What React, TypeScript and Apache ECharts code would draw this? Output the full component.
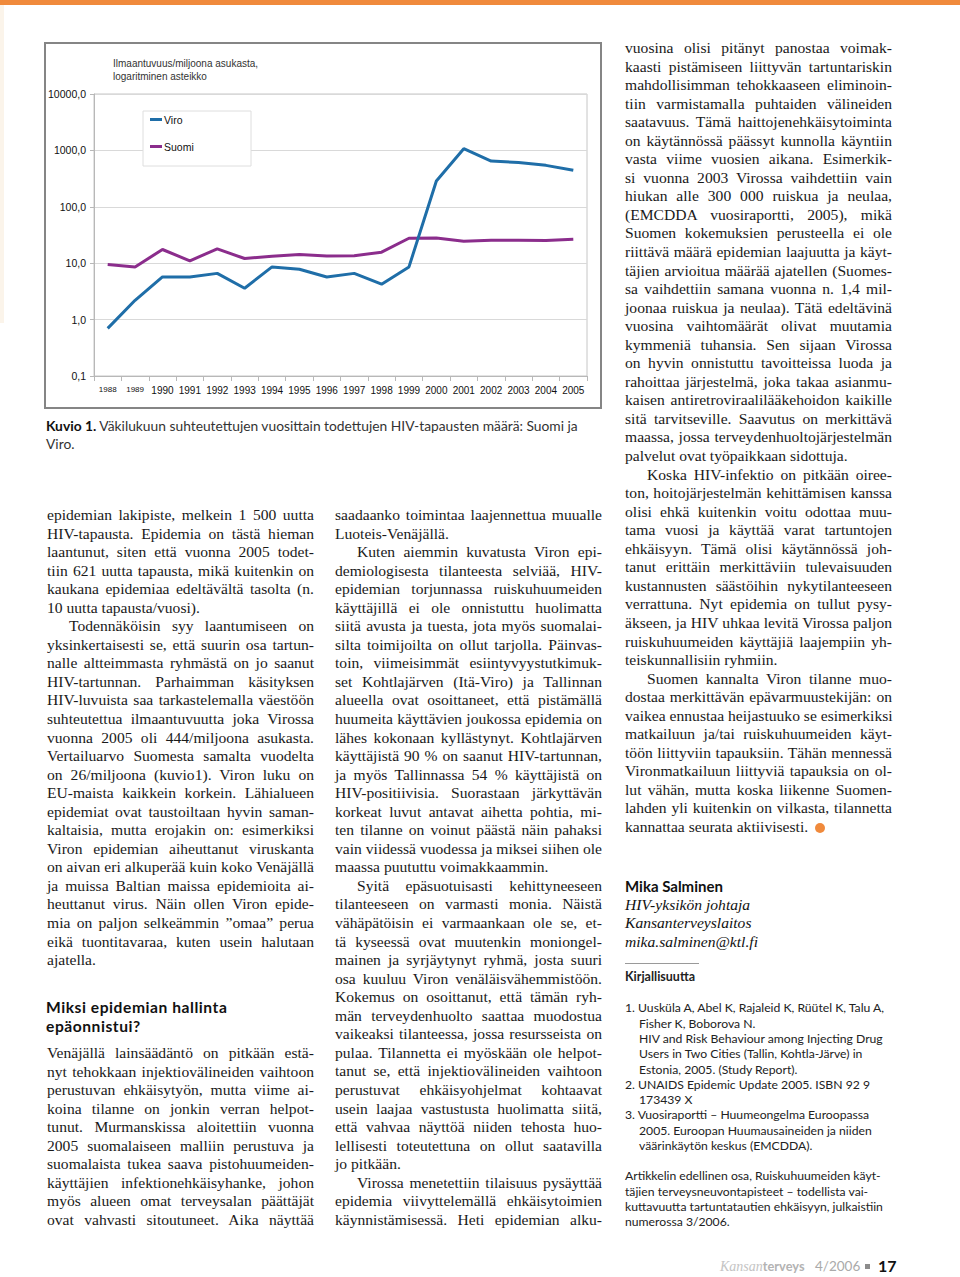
import React, { useEffect, useRef } from "react";
import * as echarts from "echarts";

// ---------- chart data ----------
const years = ["1988", "1989", "1990", "1991", "1992", "1993", "1994", "1995", "1996", "1997", "1998", "1999", "2000", "2001", "2002", "2003", "2004", "2005"];
const viro = [0.7, 2.2, 5.7, 5.7, 6.6, 3.6, 8.6, 7.8, 5.7, 6.6, 4.25, 8.6, 286, 1072, 647, 613, 543, 444];
const suomi = [9.5, 8.6, 17.5, 11, 18, 12.1, 13.3, 14.3, 13.4, 13.6, 15.7, 27.7, 28, 24.5, 25.5, 25.5, 25.2, 26.6];
const seriesNames = ["Viro", "Suomi"];
const seriesColors = ["#1f6ea8", "#8b2d8c"];
const smallYearLabels = ["1988", "1989"];
const axisTitleLines = ["Ilmaantuvuus/miljoona asukasta,", "logaritminen asteikko"];

// ---------- page text ----------
type Para = { lines: string[]; indent?: boolean; cont?: boolean; bullet?: boolean };

const leftParas: Para[] = [
  {
    lines: [
      "epidemian lakipiste, melkein 1 500 uutta",
      "HIV-tapausta. Epidemia on tästä hieman",
      "laantunut, siten että vuonna 2005 todet-",
      "tiin 621 uutta tapausta, mikä kuitenkin on",
      "kaukana epidemiaa edeltävältä tasolta (n.",
      "10 uutta tapausta/vuosi).",
    ],
  },
  {
    indent: true,
    lines: [
      "Todennäköisin syy laantumiseen on",
      "yksinkertaisesti se, että suurin osa tartun-",
      "nalle altteimmasta ryhmästä on jo saanut",
      "HIV-tartunnan. Parhaimman käsityksen",
      "HIV-luvuista saa tarkastelemalla väestöön",
      "suhteutettua ilmaantuvuutta joka Virossa",
      "vuonna 2005 oli 444/miljoona asukasta.",
      "Vertailuarvo Suomesta samalta vuodelta",
      "on 26/miljoona (kuvio1). Viron luku on",
      "EU-maista kaikkein korkein. Lähialueen",
      "epidemiat ovat taustoiltaan hyvin saman-",
      "kaltaisia, mutta erojakin on: esimerkiksi",
      "Viron epidemian aiheuttanut viruskanta",
      "on aivan eri alkuperää kuin koko Venäjällä",
      "ja muissa Baltian maissa epidemioita ai-",
      "heuttanut virus. Näin ollen Viron epide-",
      "mia on paljon selkeämmin ”omaa” perua",
      "eikä tuontitavaraa, kuten usein halutaan",
      "ajatella.",
    ],
  },
];

const headingLines = ["Miksi epidemian hallinta", "epäonnistui?"];

const leftParas2: Para[] = [
  {
    cont: true,
    lines: [
      "Venäjällä lainsäädäntö on pitkään estä-",
      "nyt tehokkaan injektiovälineiden vaihtoon",
      "perustuvan ehkäisytyön, mutta viime ai-",
      "koina tilanne on jonkin verran helpot-",
      "tunut. Murmanskissa aloitettiin vuonna",
      "2005 suomalaiseen malliin perustuva ja",
      "suomalaista tukea saava pistohuumeiden-",
      "käyttäjien infektionehkäisyhanke, johon",
      "myös alueen omat terveysalan päättäjät",
      "ovat vahvasti sitoutuneet. Aika näyttää",
    ],
  },
];

const midParas: Para[] = [
  { lines: ["saadaanko toimintaa laajennettua muualle", "Luoteis-Venäjällä."] },
  {
    indent: true,
    lines: [
      "Kuten aiemmin kuvatusta Viron epi-",
      "demiologisesta tilanteesta selviää, HIV-",
      "epidemian torjunnassa ruiskuhuumeiden",
      "käyttäjillä ei ole onnistuttu huolimatta",
      "siitä avusta ja tuesta, jota myös suomalai-",
      "silta toimijoilta on ollut tarjolla. Päinvas-",
      "toin, viimeisimmät esiintyvyystutkimuk-",
      "set Kohtlajärven (Itä-Viro) ja Tallinnan",
      "alueella ovat osoittaneet, että pistämällä",
      "huumeita käyttävien joukossa epidemia on",
      "lähes kokonaan kyllästynyt. Kohtlajärven",
      "käyttäjistä 90 % on saanut HIV-tartunnan,",
      "ja myös Tallinnassa 54 % käyttäjistä on",
      "HIV-positiivisia. Suorastaan järkyttävän",
      "korkeat luvut antavat aihetta pohtia, mi-",
      "ten tilanne on voinut päästä näin pahaksi",
      "vain viidessä vuodessa ja miksei siihen ole",
      "maassa puututtu voimakkaammin.",
    ],
  },
  {
    indent: true,
    lines: [
      "Syitä epäsuotuisasti kehittyneeseen",
      "tilanteeseen on varmasti monia. Näistä",
      "vähäpätöisin ei varmaankaan ole se, et-",
      "tä kyseessä ovat muutenkin moniongel-",
      "mainen ja syrjäytynyt ryhmä, josta suuri",
      "osa kuuluu Viron venäläisvähemmistöön.",
      "Kokemus on osoittanut, että tämän ryh-",
      "män terveydenhuolto saattaa muodostua",
      "vaikeaksi tilanteessa, jossa resursseista on",
      "pulaa. Tilannetta ei myöskään ole helpot-",
      "tanut se, että injektiovälineiden vaihtoon",
      "perustuvat ehkäisyohjelmat kohtaavat",
      "usein laajaa vastustusta huolimatta siitä,",
      "että vahvaa näyttöä niiden tehosta huo-",
      "lellisesti toteutettuna on ollut saatavilla",
      "jo pitkään.",
    ],
  },
  {
    indent: true,
    cont: true,
    lines: [
      "Virossa menetettiin tilaisuus pysäyttää",
      "epidemia viivyttelemällä ehkäisytoimien",
      "käynnistämisessä. Heti epidemian alku-",
    ],
  },
];

const rightParas: Para[] = [
  {
    lines: [
      "vuosina olisi pitänyt panostaa voimak-",
      "kaasti pistämiseen liittyvän tartuntariskin",
      "mahdollisimman tehokkaaseen eliminoin-",
      "tiin varmistamalla puhtaiden välineiden",
      "saatavuus. Tämä haittojenehkäisytoiminta",
      "on käytännössä päässyt kunnolla käyntiin",
      "vasta viime vuosien aikana. Esimerkik-",
      "si vuonna 2003 Virossa vaihdettiin vain",
      "hiukan alle 300 000 ruiskua ja neulaa,",
      "(EMCDDA vuosiraportti, 2005), mikä",
      "Suomen kokemuksien perusteella ei ole",
      "riittävä määrä epidemian laajuutta ja käyt-",
      "täjien arvioitua määrää ajatellen (Suomes-",
      "sa vaihdettiin samana vuonna n. 1,4 mil-",
      "joonaa ruiskua ja neulaa). Tätä edeltävinä",
      "vuosina vaihtomäärät olivat muutamia",
      "kymmeniä tuhansia. Sen sijaan Virossa",
      "on hyvin onnistuttu tavoitteissa luoda ja",
      "rahoittaa järjestelmä, joka takaa asianmu-",
      "kaisen antiretroviraalilääkehoidon kaikille",
      "sitä tarvitseville. Saavutus on merkittävä",
      "maassa, jossa terveydenhuoltojärjestelmän",
      "palvelut ovat työpaikkaan sidottuja.",
    ],
  },
  {
    indent: true,
    lines: [
      "Koska HIV-infektio on pitkään oiree-",
      "ton, hoitojärjestelmän kehittämisen kanssa",
      "olisi ehkä kuitenkin voitu odottaa muu-",
      "tama vuosi ja käyttää varat tartuntojen",
      "ehkäisyyn. Tämä olisi käytännössä joh-",
      "tanut erittäin merkittäviin tulevaisuuden",
      "kustannusten säästöihin nykytilanteeseen",
      "verrattuna. Nyt epidemia on tullut pysy-",
      "äkseen, ja HIV uhkaa levitä Virossa paljon",
      "ruiskuhuumeiden käyttäjiä laajempiin yh-",
      "teiskunnallisiin ryhmiin.",
    ],
  },
  {
    indent: true,
    bullet: true,
    lines: [
      "Suomen kannalta Viron tilanne muo-",
      "dostaa merkittävän epävarmuustekijän: on",
      "vaikea ennustaa heijastuuko se esimerkiksi",
      "matkailuun ja/tai ruiskuhuumeiden käyt-",
      "töön liittyviin tapauksiin. Tähän mennessä",
      "Vironmatkailuun liittyviä tapauksia on ol-",
      "lut vähän, mutta koska liikenne Suomen-",
      "lahden yli kuitenkin on vilkasta, tilannetta",
      "kannattaa seurata aktiivisesti.",
    ],
  },
];

const authorName = "Mika Salminen";
const authorLines = ["HIV-yksikön johtaja", "Kansanterveyslaitos", "mika.salminen@ktl.fi"];
const refTitle = "Kirjallisuutta";
const refLines: { t: string; sub?: boolean }[] = [
  { t: "1. Uusküla A, Abel K, Rajaleid K, Rüütel K, Talu A," },
  { t: "Fisher K, Boborova N.", sub: true },
  { t: "HIV and Risk Behaviour among Injecting Drug", sub: true },
  { t: "Users in Two Cities (Tallin, Kohtla-Järve) in", sub: true },
  { t: "Estonia, 2005. (Study Report).", sub: true },
  { t: "2. UNAIDS Epidemic Update 2005. ISBN 92 9" },
  { t: "173439 X", sub: true },
  { t: "3. Vuosiraportti – Huumeongelma Euroopassa" },
  { t: "2005. Euroopan Huumausaineiden ja niiden", sub: true },
  { t: "väärinkäytön keskus (EMCDDA).", sub: true },
];
const noteLines = [
  "Artikkelin edellinen osa, Ruiskuhuumeiden käyt-",
  "täjien terveysneuvontapisteet – todellista vai-",
  "kuttavuutta tartuntatautien ehkäisyyn, julkaistiin",
  "numerossa 3/2006.",
];

const LH = 18.55;
const SERIF = '"Liberation Serif", "Times New Roman", serif';
const SANS = 'Lato, "Noto Sans", sans-serif';
const ORANGE = "#f08a3c";

function Column({ left, top, paras }: { left: number; top: number; paras: Para[] }) {
  const rows: React.ReactNode[] = [];
  paras.forEach((p, pi) =>
    p.lines.forEach((ln, li) => {
      const isLast = li === p.lines.length - 1;
      const just = !(isLast && !p.cont);
      rows.push(
        <div
          key={pi + "-" + li}
          style={{
            height: LH,
            lineHeight: LH + "px",
            whiteSpace: "nowrap",
            textAlign: just ? "justify" : "left",
            textAlignLast: just ? "justify" : "left",
            paddingLeft: li === 0 && p.indent ? 22 : 0,
          } as React.CSSProperties}
        >
          {ln}
          {isLast && p.bullet ? (
            <span
              style={{
                display: "inline-block",
                width: 10,
                height: 10,
                borderRadius: 5,
                background: ORANGE,
                marginLeft: 7,
                verticalAlign: -1,
              }}
            />
          ) : null}
        </div>
      );
    })
  );
  return (
    <div
      style={{
        position: "absolute",
        left,
        top,
        width: 267,
        fontFamily: SERIF,
        fontSize: 15.6,
        color: "#1a1a1a",
      }}
    >
      {rows}
    </div>
  );
}

function Chart() {
  const ref = useRef<HTMLDivElement>(null);
  useEffect(() => {
    if (!ref.current) return;
    const chart = echarts.init(ref.current, undefined, { renderer: "svg" });
    const option: any = {
      animation: false,
      textStyle: { fontFamily: '"Liberation Sans", Arial, sans-serif' },
      grid: {
        left: 54,
        top: 56,
        width: 493,
        height: 282,
        show: true,
        borderColor: "#c6c6c6",
        borderWidth: 1,
        backgroundColor: "transparent",
      },
      xAxis: {
        type: "category",
        data: years,
        boundaryGap: true,
        axisLine: { lineStyle: { color: "#b8b8b8", width: 1 } },
        axisTick: { show: true, length: 5, interval: 0, lineStyle: { color: "#b8b8b8" } },
        splitLine: { show: false },
        axisLabel: {
          interval: 0,
          margin: 9,
          color: "#111",
          formatter: (v: string) => (smallYearLabels.includes(v) ? `{s|${v}}` : `{n|${v}}`),
          rich: {
            s: { fontSize: 8, color: "#111", fontFamily: '"Liberation Sans", Arial, sans-serif' },
            n: { fontSize: 10, color: "#111", fontFamily: '"Liberation Sans", Arial, sans-serif' },
          },
        },
      },
      yAxis: {
        type: "log",
        logBase: 10,
        min: 0.1,
        max: 10000,
        axisLine: { show: true, lineStyle: { color: "#b8b8b8" } },
        axisTick: { show: true, length: 4, lineStyle: { color: "#b8b8b8" } },
        splitLine: { show: true, lineStyle: { color: "#d9d9d9", width: 1 } },
        axisLabel: {
          fontSize: 10.5,
          color: "#111",
          margin: 8,
          formatter: (v: number) => v.toFixed(1).replace(".", ","),
        },
      },
      legend: [
        {
          data: [seriesNames[0]],
          left: 110,
          top: 76,
          padding: 0,
          itemWidth: 12,
          itemHeight: 3,
          itemGap: 2,
          icon: "rect",
          z: 20,
          textStyle: { fontSize: 10.5, color: "#111", padding: [0, 0, 0, -3] },
        },
        {
          data: [seriesNames[1]],
          left: 110,
          top: 103,
          padding: 0,
          itemWidth: 12,
          itemHeight: 3,
          icon: "rect",
          z: 20,
          textStyle: { fontSize: 10.5, color: "#111", padding: [0, 0, 0, -3] },
        },
      ],
      graphic: [
        {
          type: "rect",
          z: 0,
          shape: { x: 5, y: 5, width: 556, height: 365 },
          style: { fill: "none", stroke: "#858585", lineWidth: 2 },
        },
        {
          type: "rect",
          z: 10,
          shape: { x: 103, y: 73, width: 108, height: 55 },
          style: { fill: "#ffffff", stroke: "#dedede", lineWidth: 1 },
        },
        {
          type: "text",
          z: 10,
          x: 73,
          y: 19,
          style: {
            text: axisTitleLines.join("\n"),
            fontSize: 10,
            lineHeight: 13,
            fill: "#333",
            fontFamily: '"Liberation Sans", Arial, sans-serif',
          },
        },
      ],
      series: [
        {
          name: seriesNames[0],
          type: "line",
          data: viro,
          symbol: "none",
          showSymbol: false,
          color: seriesColors[0],
          lineStyle: { width: 3, color: seriesColors[0] },
          z: 3,
        },
        {
          name: seriesNames[1],
          type: "line",
          data: suomi,
          symbol: "none",
          showSymbol: false,
          color: seriesColors[1],
          lineStyle: { width: 3, color: seriesColors[1] },
          z: 2,
        },
      ],
    };
    chart.setOption(option);
    return () => chart.dispose();
  }, []);
  return <div ref={ref} style={{ position: "absolute", left: 40, top: 38, width: 570, height: 380 }} />;
}

export default function App() {
  return (
    <div
      style={{
        position: "absolute",
        left: 0,
        top: 0,
        width: 960,
        height: 1277,
        overflow: "hidden",
        background: "#fff",
      }}
    >
      <div style={{ position: "absolute", left: 0, top: 0, width: 960, height: 5, background: ORANGE }} />
      <div style={{ position: "absolute", left: 0, top: 5, width: 4, height: 318, background: "#fbf4ea" }} />

      <Chart />

      {/* caption */}
      <div
        style={{
          position: "absolute",
          left: 46,
          top: 417,
          width: 570,
          fontFamily: SANS,
          fontSize: 13.8,
          lineHeight: "18px",
          color: "#333",
        }}
      >
        <div style={{ whiteSpace: "nowrap" }}>
          <b style={{ color: "#111" }}>Kuvio 1.</b> Väkilukuun suhteutettujen vuosittain todettujen HIV-tapausten määrä: Suomi ja
        </div>
        <div>Viro.</div>
      </div>

      <Column left={47} top={506} paras={leftParas} />

      <div
        style={{
          position: "absolute",
          left: 46,
          top: 998,
          fontFamily: SANS,
          fontWeight: 700,
          fontSize: 15.6,
          letterSpacing: 0.55,
          lineHeight: "19px",
          color: "#111",
        }}
      >
        {headingLines.map((h, i) => (
          <div key={i} style={{ height: 19 }}>
            {h}
          </div>
        ))}
      </div>

      <Column left={47} top={1044} paras={leftParas2} />
      <Column left={335} top={506} paras={midParas} />
      <Column left={625} top={39} paras={rightParas} />

      {/* author */}
      <div style={{ position: "absolute", left: 625, top: 877, color: "#111" }}>
        <div style={{ fontFamily: SANS, fontWeight: 700, fontSize: 15, height: LH, lineHeight: LH + "px" }}>{authorName}</div>
        {authorLines.map((a, i) => (
          <div key={i} style={{ fontFamily: SERIF, fontStyle: "italic", fontSize: 15.6, height: LH, lineHeight: LH + "px" }}>
            {a}
          </div>
        ))}
      </div>
      <div style={{ position: "absolute", left: 625, top: 963, width: 74, height: 1, background: "#9a9a9a" }} />
      <div
        style={{
          position: "absolute",
          left: 625,
          top: 969,
          fontFamily: SANS,
          fontWeight: 700,
          fontSize: 12.5,
          lineHeight: "16px",
          color: "#222",
        }}
      >
        {refTitle}
      </div>
      <div
        style={{
          position: "absolute",
          left: 625,
          top: 1000.4,
          fontFamily: SANS,
          fontSize: 12.2,
          lineHeight: "15.3px",
          color: "#222",
          whiteSpace: "nowrap",
        }}
      >
        {refLines.map((r, i) => (
          <div key={i} style={{ height: 15.3, paddingLeft: r.sub ? 14 : 0 }}>
            {r.t}
          </div>
        ))}
      </div>
      <div
        style={{
          position: "absolute",
          left: 625,
          top: 1168.4,
          fontFamily: SANS,
          fontSize: 12.2,
          lineHeight: "15.3px",
          color: "#222",
          whiteSpace: "nowrap",
        }}
      >
        {noteLines.map((n, i) => (
          <div key={i} style={{ height: 15.3 }}>
            {n}
          </div>
        ))}
      </div>

      {/* footer */}
      <div style={{ position: "absolute", left: 720, top: 1256, lineHeight: "20px", whiteSpace: "nowrap" }}>
        <span style={{ fontFamily: SERIF, fontStyle: "italic", fontSize: 14, color: "#c4c4c4" }}>Kansan</span>
        <span style={{ fontFamily: SANS, fontWeight: 700, fontSize: 12.8, color: "#b3b3b3" }}>terveys</span>
      </div>
      <div
        style={{
          position: "absolute",
          left: 815,
          top: 1256,
          lineHeight: "20px",
          fontFamily: SANS,
          fontSize: 13.5,
          color: "#aaa",
        }}
      >
        4/2006
      </div>
      <div style={{ position: "absolute", left: 865, top: 1264, width: 5, height: 5, background: "#8c8c8c" }} />
      <div
        style={{
          position: "absolute",
          left: 878,
          top: 1256,
          lineHeight: "20px",
          fontFamily: SANS,
          fontWeight: 700,
          fontSize: 16,
          color: "#111",
        }}
      >
        17
      </div>
    </div>
  );
}
